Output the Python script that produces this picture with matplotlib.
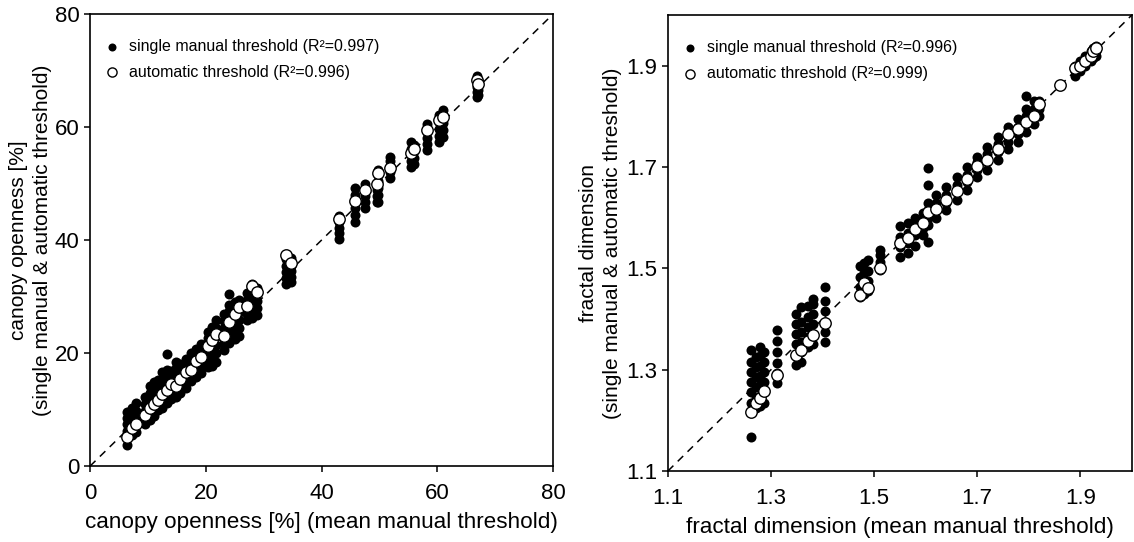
import matplotlib
matplotlib.use("Agg")
import matplotlib.pyplot as plt

plt.rcParams['font.family'] = ['Liberation Sans', 'DejaVu Sans']

# ---- canopy openness [%] : one entry per image ----
open_mean = [6.3, 7.2, 8.0, 9.5, 10.3, 11.0, 11.8, 12.5, 13.3, 14.0,
             14.8, 15.6, 16.5, 17.4, 18.3, 19.2, 20.3, 21.0, 21.8, 23.2,
             24.0, 25.0, 25.8, 27.2, 28.0, 28.8, 33.8, 34.8, 43.0, 45.8,
             47.5, 49.5, 49.8, 51.8, 55.5, 56.0, 58.3, 60.3, 61.0, 66.8, 67.0]
open_auto = [5.2, 6.8, 7.5, 9.0, 10.2, 11.0, 11.7, 12.8, 13.5, 14.6,
             14.2, 15.4, 16.7, 17.0, 18.6, 19.3, 21.3, 22.3, 23.4, 23.0,
             25.5, 27.0, 28.1, 28.4, 31.9, 30.8, 37.3, 35.9, 43.8, 47.0,
             48.8, 50.0, 51.8, 52.8, 55.4, 56.2, 59.5, 61.2, 61.8, 68.3, 67.6]
open_manual = [
    [3.8, 5.0, 6.2, 7.4, 8.6, 9.5],
    [5.5, 6.5, 7.8, 9.0, 10.2],
    [6.0, 7.2, 8.5, 9.8, 11.2],
    [7.5, 8.6, 9.8, 11.0, 12.3],
    [8.2, 9.4, 10.6, 11.8, 13.0, 14.2],
    [8.8, 10.0, 11.2, 12.4, 13.6, 14.9],
    [10.0, 11.3, 12.6, 13.9, 15.2],
    [10.3, 11.6, 12.9, 14.2, 15.5, 16.6],
    [11.2, 12.4, 13.6, 14.8, 16.0, 17.0, 19.8],
    [11.8, 13.0, 14.3, 15.6, 16.8],
    [12.3, 13.5, 14.8, 16.1, 17.4, 18.5],
    [13.0, 14.3, 15.6, 16.9, 18.1],
    [13.9, 15.2, 16.5, 17.8, 19.0],
    [15.0, 16.2, 17.5, 18.8, 20.0],
    [15.8, 17.0, 18.3, 19.6, 20.8],
    [16.5, 17.8, 19.0, 20.3, 21.6],
    [17.5, 18.8, 20.1, 21.4, 22.6, 23.8],
    [17.8, 19.2, 20.6, 22.0, 23.4, 24.6],
    [18.5, 20.0, 21.5, 23.0, 24.5, 25.8],
    [20.5, 21.8, 23.1, 24.4, 25.7, 27.0],
    [21.8, 23.2, 24.6, 26.0, 27.4, 28.6, 30.4],
    [22.5, 23.8, 25.1, 26.4, 27.7, 29.0],
    [23.0, 24.4, 25.8, 27.2, 28.6, 29.4],
    [25.8, 27.0, 28.2, 29.4, 30.6],
    [26.3, 27.5, 28.7, 29.9, 31.1, 32.2],
    [26.8, 28.0, 29.2, 30.4, 31.6],
    [32.2, 33.3, 34.4, 35.5, 36.6],
    [32.5, 33.5, 34.5, 35.5, 36.8],
    [40.2, 41.2, 42.2, 43.2, 44.2],
    [43.2, 44.4, 45.6, 46.8, 48.0, 49.2],
    [45.6, 46.7, 47.8, 48.9, 50.0],
    [46.7, 47.8, 48.9, 50.0],
    [46.8, 48.0, 49.2, 50.4, 51.6, 52.4],
    [51.0, 52.0, 53.0, 54.0, 54.7],
    [52.9, 54.0, 55.1, 56.2, 57.3],
    [53.5, 54.6, 55.7, 56.8],
    [55.9, 57.0, 58.1, 59.2, 60.5],
    [57.3, 58.5, 59.7, 60.9, 62.2],
    [58.2, 59.5, 60.8, 62.0, 63.0],
    [65.3, 66.2, 67.1, 68.0, 69.0],
    [65.6, 66.5, 67.4],
]

# ---- fractal dimension : one entry per image ----
frac_mean = [1.262, 1.270, 1.278, 1.287, 1.311, 1.348, 1.358, 1.372, 1.382,
             1.405, 1.472, 1.480, 1.488, 1.512, 1.550, 1.565, 1.580, 1.595,
             1.605, 1.620, 1.640, 1.660, 1.680, 1.700, 1.720, 1.740, 1.760,
             1.780, 1.795, 1.810, 1.820, 1.860, 1.890, 1.900, 1.910, 1.920,
             1.925, 1.930]
frac_auto = [1.217, 1.235, 1.244, 1.258, 1.290, 1.330, 1.339, 1.356, 1.369,
             1.392, 1.448, 1.472, 1.462, 1.500, 1.551, 1.560, 1.577, 1.590,
             1.612, 1.618, 1.635, 1.652, 1.676, 1.703, 1.715, 1.735, 1.765,
             1.775, 1.790, 1.800, 1.825, 1.862, 1.895, 1.900, 1.910, 1.920,
             1.930, 1.935]
frac_manual = [
    [1.167, 1.235, 1.255, 1.275, 1.295, 1.315, 1.338],
    [1.225, 1.245, 1.265, 1.285, 1.305, 1.325],
    [1.228, 1.248, 1.268, 1.288, 1.308, 1.328, 1.345],
    [1.235, 1.255, 1.275, 1.295, 1.315, 1.335],
    [1.274, 1.294, 1.314, 1.334, 1.356, 1.379],
    [1.310, 1.330, 1.350, 1.370, 1.390, 1.410],
    [1.315, 1.335, 1.355, 1.375, 1.395, 1.424],
    [1.345, 1.365, 1.385, 1.405, 1.425],
    [1.350, 1.370, 1.390, 1.410, 1.430, 1.440],
    [1.355, 1.375, 1.395, 1.415, 1.435, 1.464],
    [1.444, 1.464, 1.484, 1.504],
    [1.450, 1.470, 1.490, 1.510],
    [1.455, 1.475, 1.495, 1.517],
    [1.497, 1.512, 1.527, 1.537],
    [1.523, 1.543, 1.563, 1.583],
    [1.530, 1.550, 1.570, 1.590],
    [1.545, 1.565, 1.585, 1.600],
    [1.565, 1.580, 1.595, 1.610],
    [1.553, 1.585, 1.600, 1.615, 1.630, 1.665, 1.699],
    [1.600, 1.615, 1.630, 1.645],
    [1.615, 1.630, 1.645, 1.660],
    [1.635, 1.650, 1.665, 1.680],
    [1.655, 1.670, 1.685, 1.700],
    [1.680, 1.695, 1.710, 1.720],
    [1.695, 1.710, 1.725, 1.740],
    [1.715, 1.730, 1.745, 1.760],
    [1.735, 1.750, 1.765, 1.780],
    [1.750, 1.765, 1.780, 1.795],
    [1.770, 1.785, 1.800, 1.815, 1.840],
    [1.785, 1.800, 1.815, 1.830],
    [1.800, 1.815, 1.830],
    [],
    [1.880, 1.890, 1.900],
    [1.890, 1.900, 1.910],
    [1.900, 1.910, 1.920],
    [1.910, 1.920, 1.930],
    [1.915, 1.925, 1.935],
    [1.920, 1.930, 1.940],
]

labels_open = ['single manual threshold (R\u00b2=0.997)', 'automatic threshold (R\u00b2=0.996)']
labels_frac = ['single manual threshold (R\u00b2=0.996)', 'automatic threshold (R\u00b2=0.999)']


def panel(ax, mean, auto, manual, lims, ticks, labels, xlabel, ylabel, ypad):
    ax.plot(lims, lims, ls=(0, (5, 4)), color='black', lw=1.1, zorder=1)
    mx, my = [], []
    for x, ys in zip(mean, manual):
        for y in ys:
            mx.append(x)
            my.append(y)
    ax.scatter(mx, my, s=52, color='black', lw=0, zorder=2, label=labels[0])
    ax.scatter(mean, auto, s=68, facecolor='white', edgecolor='black',
               lw=1.0, zorder=3, label=labels[1])
    ax.set_xlim(lims)
    ax.set_ylim(lims)
    ax.set_xticks(ticks)
    ax.set_yticks(ticks)
    ax.tick_params(direction='out', length=4, width=1.1, labelsize=16)
    ax.tick_params(axis='x', pad=8)
    for sp in ax.spines.values():
        sp.set_linewidth(1.2)
    ax.set_xlabel(xlabel, fontsize=16.2, labelpad=6)
    ax.set_ylabel(ylabel, fontsize=15, labelpad=ypad, linespacing=1.35)
    ax.legend(loc='upper left', bbox_to_anchor=(0.0, 0.969), frameon=False,
              fontsize=11.5, handletextpad=0.35, handlelength=1.4, markerscale=0.8,
              labelspacing=0.65, borderaxespad=0.3)


fig = plt.figure(figsize=(11.34, 5.42), dpi=100)
ax1 = fig.add_axes([0.0794, 0.140, 0.4083, 0.834])
ax2 = fig.add_axes([0.589, 0.131, 0.409, 0.841])

panel(ax1, open_mean, open_auto, open_manual, (0, 80), [0, 20, 40, 60, 80], labels_open,
      'canopy openness [%] (mean manual threshold)',
      'canopy openness [%]\n(single manual & automatic threshold)', 2)
panel(ax2, frac_mean, frac_auto, frac_manual, (1.1, 2.0), [1.1, 1.3, 1.5, 1.7, 1.9], labels_frac,
      'fractal dimension (mean manual threshold)',
      'fractal dimension\n(single manual & automatic threshold)', 3)
ax2.set_xticklabels(['1.1', '1.3', '1.5', '1.7', '1.9'])
ax2.set_yticklabels(['1.1', '1.3', '1.5', '1.7', '1.9'])

fig.savefig('out.png', dpi=100)
